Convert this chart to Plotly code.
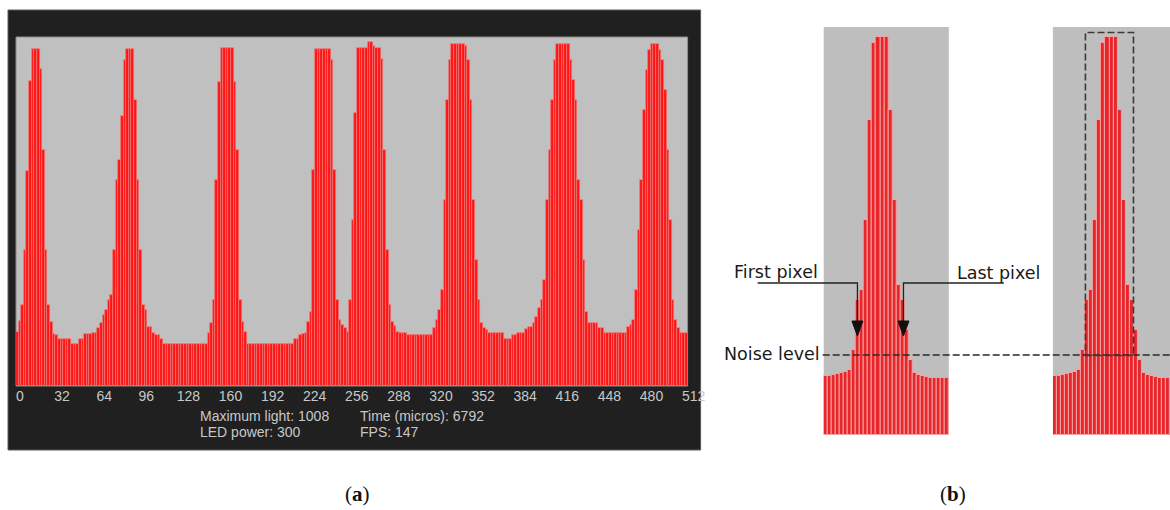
import plotly.graph_objects as go

W, H = 1170, 510
FIG_W = 1183  # rendered width that maps onto the 1170-px picture

# ---------------- data ----------------
# panel (a): light intensity per 2-pixel bin of the 512-pixel sensor
light_a = [
    158, 190, 238, 399, 631, 895, 989, 989, 989, 930, 692, 399, 238, 188, 153, 150,
    138, 138, 138, 138, 138, 123, 123, 123, 138, 138, 153, 153, 153, 156, 156, 170,
    185, 208, 223, 252, 267, 399, 604, 663, 792, 956, 989, 989, 989, 839, 604, 399,
    238, 223, 173, 173, 156, 150, 150, 138, 123, 123, 123, 123, 123, 123, 123, 123,
    123, 123, 123, 123, 123, 123, 123, 123, 123, 156, 185, 252, 604, 892, 992, 992,
    992, 992, 992, 892, 692, 252, 188, 158, 123, 123, 123, 123, 123, 123, 123, 123,
    123, 123, 123, 123, 123, 123, 123, 123, 123, 123, 138, 138, 150, 153, 156, 188,
    217, 634, 989, 989, 989, 989, 989, 989, 956, 634, 252, 194, 179, 170, 158, 252,
    487, 800, 992, 992, 992, 992, 1008, 1008, 998, 992, 992, 960, 692, 399, 238, 188,
    175, 158, 156, 156, 156, 150, 150, 150, 150, 150, 150, 150, 150, 150, 150, 170,
    194, 223, 282, 546, 839, 956, 1003, 1003, 1003, 1003, 1003, 998, 956, 839, 546, 370,
    252, 185, 170, 163, 156, 156, 156, 156, 156, 156, 138, 138, 138, 150, 150, 156,
    156, 156, 167, 173, 173, 185, 202, 229, 252, 311, 546, 692, 839, 956, 1003, 1003,
    1003, 1003, 1003, 956, 898, 839, 604, 546, 370, 217, 185, 185, 185, 185, 170, 170,
    156, 156, 156, 156, 156, 156, 156, 156, 156, 173, 180, 194, 282, 458, 604, 810,
    927, 986, 1003, 1003, 1003, 986, 956, 868, 692, 487, 252, 194, 170, 156, 156, 156,
]
bin_width_a = 2
pixels_a = [bin_width_a * i + bin_width_a / 2 for i in range(len(light_a))]
ticks_a = [0, 32, 64, 96, 128, 160, 192, 224, 256, 288, 320, 352, 384, 416, 448, 480, 512]

# panel (b): zoom on one peak
light_b = [148, 148, 151, 153, 156, 158, 163, 213, 339, 364, 540, 791, 983, 999, 999, 999,
           816, 590, 377, 339, 264, 188, 156, 151, 148, 146, 143, 143, 143, 143, 143]
pixels_b = [j + 0.5 for j in range(len(light_b))]

info_lines = ["Maximum light: 1008", "LED power: 300", "Time (micros): 6792", "FPS: 147"]


def X(px):
    return px / W


def Y(py):
    return 1 - py / H


RED_A = "#ff1414"
RED_B = "#e8262a"

fig = go.Figure()

fig.add_trace(go.Bar(x=pixels_a, y=light_a, width=bin_width_a, xaxis="x", yaxis="y",
                     marker=dict(color=RED_A, line=dict(color="#f07a7a", width=0.7)),
                     hoverinfo="skip", showlegend=False))
fig.add_trace(go.Scatter(x=[ticks_a[0], ticks_a[-1]], y=[0, 0], xaxis="x4", yaxis="y",
                         mode="markers", marker=dict(opacity=0), hoverinfo="skip",
                         showlegend=False))
for xa in ("x2", "x3"):
    fig.add_trace(go.Bar(x=pixels_b, y=light_b, width=1, xaxis=xa, yaxis="y2",
                         marker=dict(color=RED_B, line=dict(color="#f4a4a4", width=1)),
                         hoverinfo="skip", showlegend=False))

noax = dict(showgrid=False, zeroline=False, showline=False, showticklabels=False, ticks="")

fig.update_layout(
    width=FIG_W - 16, height=H - 16, autosize=False, margin=dict(l=0, r=0, t=0, b=0),
    paper_bgcolor="white", plot_bgcolor="rgba(0,0,0,0)", showlegend=False,
    bargap=0,
    xaxis=dict(domain=[X(16), X(687)], range=[0, 512], anchor="y", **noax),
    yaxis=dict(domain=[Y(386), Y(37)], range=[0, 1024], anchor="x", **noax),
    xaxis4=dict(domain=[X(16), X(693)], range=[-3.03, 512], anchor="y",
                showgrid=False, zeroline=False, showline=False, ticks="",
                tickmode="array", tickvals=ticks_a, ticktext=[str(t) for t in ticks_a],
                tickfont=dict(family="Liberation Sans, Arial", size=14, color="#c8c8c8")),
    xaxis2=dict(domain=[X(823), X(948)], range=[0, 31], anchor="y2", **noax),
    xaxis3=dict(domain=[X(1052), 1.0], range=[0, (1170 - 1052) / (125 / 31)], anchor="y2", **noax),
    yaxis2=dict(domain=[Y(435), Y(27)], range=[0, 1024], anchor="x2", **noax),
)

shapes = [
    dict(type="rect", xref="paper", yref="paper", x0=X(8), x1=X(700), y0=Y(450), y1=Y(10),
         fillcolor="#202020", line=dict(color="#5a5a5a", width=1), layer="below"),
    dict(type="rect", xref="paper", yref="paper", x0=X(16), x1=X(687), y0=Y(386), y1=Y(37),
         fillcolor="#c0c0c0", line=dict(color="#8c8c8c", width=1), layer="below"),
    dict(type="rect", xref="paper", yref="paper", x0=X(823), x1=X(948), y0=Y(435), y1=Y(27),
         fillcolor="#bebebe", line=dict(width=0), layer="below"),
    dict(type="rect", xref="paper", yref="paper", x0=X(1052), x1=X(1170), y0=Y(435), y1=Y(27),
         fillcolor="#bebebe", line=dict(width=0), layer="below"),
    # noise level
    dict(type="line", xref="paper", yref="paper", x0=X(822), x1=X(1170), y0=Y(355), y1=Y(355),
         line=dict(color="#2a2a2a", width=1.5, dash="7px,3px"), layer="above"),
    # dashed box
    dict(type="rect", xref="paper", yref="paper", x0=X(1084.5), x1=X(1132.5), y0=Y(355.5), y1=Y(32.5),
         line=dict(color="#3a3a3a", width=1.6, dash="7px,3px"), layer="above"),
    # leaders
    dict(type="path", xref="paper", yref="paper",
         path=f"M {X(757)} {Y(283)} L {X(856.7)} {Y(283)} L {X(856.7)} {Y(323)}",
         line=dict(color="#222222", width=1.3), layer="above"),
    dict(type="path", xref="paper", yref="paper",
         path=f"M {X(1003)} {Y(283)} L {X(902.7)} {Y(283)} L {X(902.7)} {Y(323)}",
         line=dict(color="#222222", width=1.3), layer="above"),
    dict(type="path", xref="paper", yref="paper",
         path=f"M {X(851.2)} {Y(321)} L {X(862.2)} {Y(321)} L {X(856.7)} {Y(336)} Z",
         fillcolor="#111111", line=dict(color="#111111", width=1), layer="above"),
    dict(type="path", xref="paper", yref="paper",
         path=f"M {X(897.2)} {Y(321)} L {X(908.2)} {Y(321)} L {X(902.7)} {Y(336)} Z",
         fillcolor="#111111", line=dict(color="#111111", width=1), layer="above"),
]
fig.update_layout(shapes=shapes)

ann = []
info_font = dict(family="Liberation Sans, Arial", size=14, color="#c8c8c8")
for txt, (px, py) in zip(info_lines, [(198, 416), (198, 432), (358, 416), (358, 432)]):
    ann.append(dict(text=txt, x=X(px), y=Y(py), xref="paper", yref="paper",
                    xanchor="left", yanchor="middle", showarrow=False, font=info_font))
bfont = dict(family="DejaVu Sans, Verdana", size=17.5, color="#1a1a1a")
ann.append(dict(text="First pixel", x=X(731), y=Y(272), xref="paper", yref="paper",
                xanchor="left", yanchor="middle", showarrow=False, font=bfont))
ann.append(dict(text="Last pixel", x=X(954), y=Y(273), xref="paper", yref="paper",
                xanchor="left", yanchor="middle", showarrow=False, font=bfont))
ann.append(dict(text="Noise level", x=X(821), y=Y(354), xref="paper", yref="paper",
                xanchor="right", yanchor="middle", showarrow=False, font=bfont))
lfont = dict(family="Liberation Serif, Times New Roman", size=21, color="#111111")
ann.append(dict(text="(<b>a</b>)", x=X(357), y=Y(494), xref="paper", yref="paper",
                xanchor="center", yanchor="middle", showarrow=False, font=lfont))
ann.append(dict(text="(<b>b</b>)", x=X(952), y=Y(494), xref="paper", yref="paper",
                xanchor="center", yanchor="middle", showarrow=False, font=lfont))
fig.update_layout(annotations=ann)

post = ("document.body.style.margin='0';document.documentElement.style.overflow='hidden';"
        "document.body.style.overflow='hidden';"
        "Plotly.relayout('{plot_id}', {width: %d, height: %d});" % (FIG_W, H))
fig.write_html("out.html", config={"displayModeBar": False, "responsive": False},
               post_script=post)
